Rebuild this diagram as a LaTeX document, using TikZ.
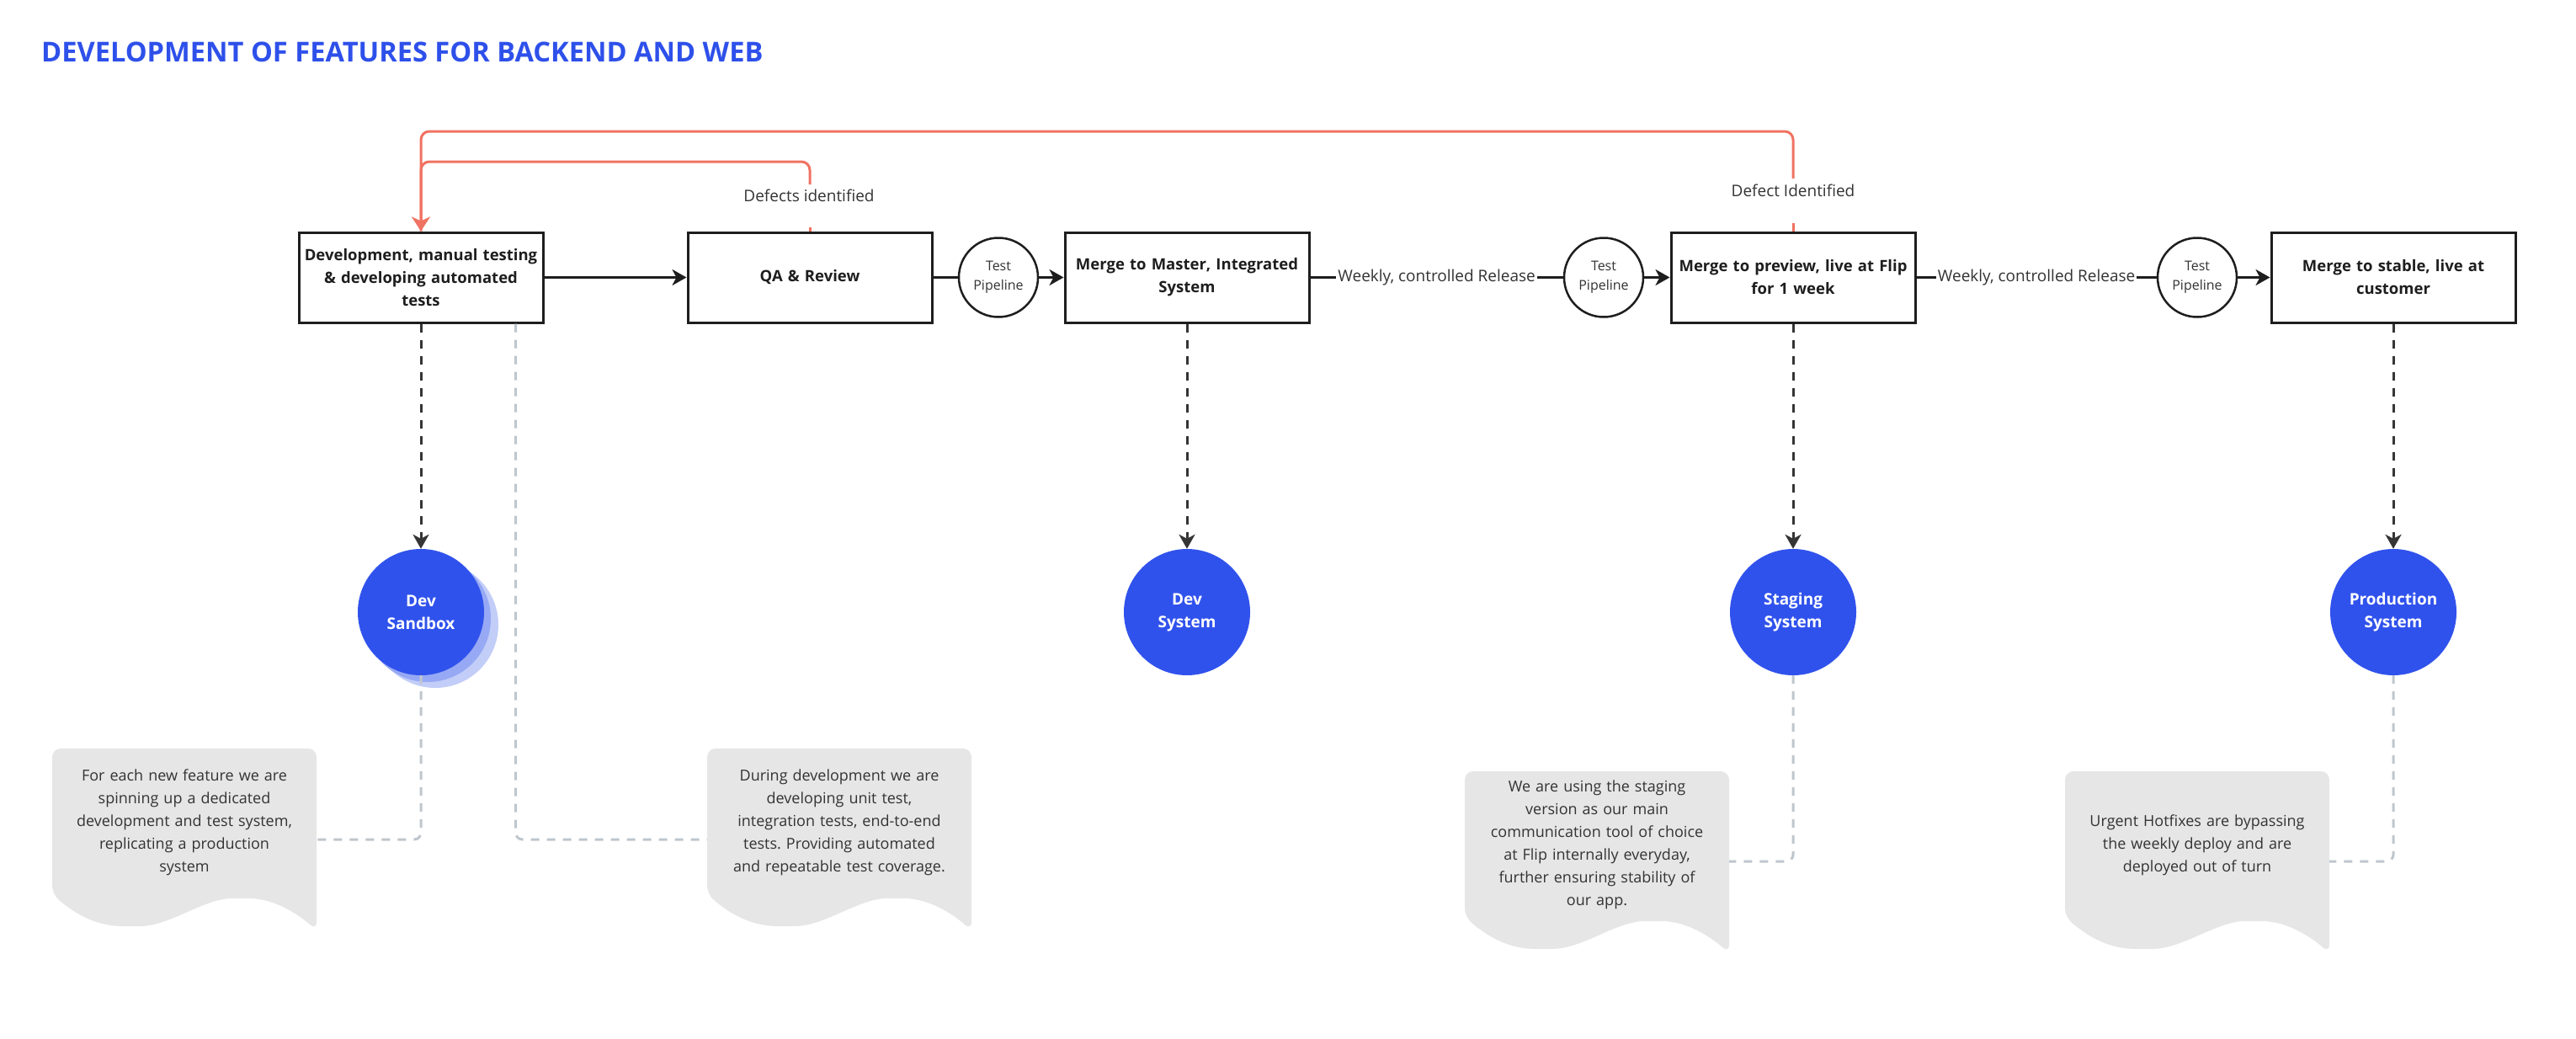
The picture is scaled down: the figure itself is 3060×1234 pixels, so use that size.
\documentclass[tikz,border=0pt]{standalone}
\usepackage{fontspec}
\setmainfont{Open Sans}
\usetikzlibrary{arrows.meta}
\frenchspacing
\definecolor{titleblue}{HTML}{2E50EA}
\definecolor{sysblue}{HTML}{3052EC}
\definecolor{shadeA}{HTML}{97A9F4}
\definecolor{shadeB}{HTML}{C2CDF8}
\definecolor{defred}{HTML}{F07262}
\definecolor{notegray}{HTML}{E6E6E6}
\definecolor{linegray}{HTML}{BFC6CD}
\definecolor{ink}{HTML}{1E1E1E}
\definecolor{txt}{HTML}{333333}
\tikzset{
 stepbox/.style={draw=ink, line width=3pt, fill=white, minimum width=290pt, minimum height=107pt, text width=284pt, align=center, font=\bfseries\fontsize{18.5}{27}\selectfont, inner sep=0pt, text=ink},
 pipe/.style={circle, draw=ink, line width=2.5pt, fill=white, minimum size=94pt, inner sep=0pt, align=center, font=\fontsize{16}{23}\selectfont, text=txt},
 sys/.style={circle, fill=sysblue, minimum size=150pt, inner sep=0pt, align=center, text=white, font=\bfseries\fontsize{19}{27}\selectfont},
 flow/.style={draw=ink, line width=3pt, -{Stealth[length=17pt,width=19pt,inset=5pt]}},
 plain/.style={draw=ink, line width=3pt},
 deploy/.style={draw=ink!90, line width=3pt, dash pattern=on 10pt off 9pt, -{Stealth[length=17pt,width=19pt,inset=5pt]}},
 remark/.style={draw=linegray, line width=3pt, dash pattern=on 10pt off 9pt, rounded corners=8pt},
 defect/.style={draw=defred, line width=3pt, rounded corners=10pt},
 lbl/.style={font=\fontsize{19}{22}\selectfont, text=txt, inner sep=2pt},
 notetext/.style={text width=306pt, align=center, font=\fontsize{18}{27}\selectfont, text=txt, inner sep=0pt},
}
\newcommand\docnote[2]{%
 \fill[notegray, rounded corners=10pt] ({#1+314},{#2+216}) -- ({#1+314},{#2}) -- ({#1},{#2}) -- ({#1},{#2+173})
   .. controls ({#1+35},{#2+203}) and ({#1+60},{#2+211}) .. ({#1+94},{#2+211})
   .. controls ({#1+140},{#2+211}) and ({#1+180},{#2+178}) .. ({#1+224},{#2+178})
   .. controls ({#1+262},{#2+178}) and ({#1+290},{#2+195}) .. ({#1+314},{#2+216}) -- cycle;}
\begin{document}
\begin{tikzpicture}[x=1pt,y=-1pt]
\useasboundingbox (0,0) rectangle (3060,1234);
\node[anchor=west, font=\bfseries\fontsize{32.6}{38}\selectfont, text=titleblue, inner sep=0pt] (title) at (49,62) {DEVELOPMENT OF FEATURES FOR BACKEND AND WEB};

% process boxes
\node[stepbox] (dev) at (500,329.5) {Development, manual testing\\ \& developing automated\\ tests};
\node[stepbox] (qa) at (962,329.5) {QA \& Review};
\node[stepbox] (mm) at (1410,329.5) {Merge to Master, Integrated\\ System};
\node[stepbox] (pv) at (2130,329.5) {Merge to preview, live at Flip\\ for 1 week};
\node[stepbox] (st) at (2843,329.5) {Merge to stable, live at\\ customer};

\node[pipe] (tp1) at (1186,329.5) {Test\\ Pipeline};
\node[pipe] (tp2) at (1905,329.5) {Test\\ Pipeline};
\node[pipe] (tp3) at (2610,329.5) {Test\\ Pipeline};

% horizontal flow
\draw[flow] (dev) -- (qa);
\draw[plain] (qa) -- (tp1);
\draw[flow] (tp1) -- (mm);
\draw[plain] (mm) -- (tp2) node[midway, lbl, fill=white] (w1) {Weekly, controlled Release};
\draw[flow] (tp2) -- (pv);
\draw[plain] (pv) -- (tp3) node[midway, lbl, fill=white] (w2) {Weekly, controlled Release};
\draw[flow] (tp3) -- (st);

% defect feedback
\node[lbl] (d1) at (961,232) {Defects identified};
\node[lbl] (d2) at (2130,226) {Defect Identified};
\coordinate (g1a) at (962,219);
\coordinate (g1b) at (962,270);
\coordinate (g2a) at (2130,212);
\coordinate (g2b) at (2130,265);
\draw[defect] (qa.north) -- (g1b);
\draw[defect] (g1a) -- (962,192) -- (500,192) -- (dev.north);
\draw[defect] (pv.north) -- (g2b);
\draw[defect, -{Stealth[length=17pt,width=22pt,inset=5pt]}] (g2a) -- (2130,156) -- (500,156) -- (dev.north);

% notes
\docnote{62}{889}
\docnote{840}{889}
\docnote{1740}{916}
\docnote{2453}{916}
\node[notetext] (n1) at (219,977) {For each new feature we are\\ spinning up a dedicated\\ development and test system,\\ replicating a production\\ system};
\node[notetext] (n2) at (997,977) {During development we are\\ developing unit test,\\ integration tests, end-to-end\\ tests. Providing automated\\ and repeatable test coverage.};
\node[notetext] (n3) at (1897,1003.5) {We are using the staging\\ version as our main\\ communication tool of choice\\ at Flip internally everyday,\\ further ensuring stability of\\ our app.};
\node[notetext] (n4) at (2610,1003.5) {Urgent Hotfixes are bypassing\\ the weekly deploy and are\\ deployed out of turn};
\coordinate (n1r) at (376,997);
\coordinate (n2l) at (840,997);
\coordinate (n3r) at (2054,1023);
\coordinate (n4r) at (2767,1023);

% systems
\fill[shadeB] (517,742) circle[radius=75pt];
\fill[shadeA] (508,735) circle[radius=75pt];
\node[sys] (dsb) at (500,727) {Dev\\ Sandbox};
\node[sys] (dsy) at (1410,727) {Dev\\ System};
\node[sys] (stg) at (2130,727) {Staging\\ System};
\node[sys] (prd) at (2843,727) {Production\\ System};

\draw[deploy] (dev) -- (dsb);
\draw[deploy] (mm) -- (dsy);
\draw[deploy] (pv) -- (stg);
\draw[deploy] (st) -- (prd);

\draw[remark] (dsb.south) |- (n1r);
\draw[remark] ([xshift=-34pt]dev.south east) |- (n2l);
\draw[remark] (stg.south) |- (n3r);
\draw[remark] (prd.south) |- (n4r);
\end{tikzpicture}
\end{document}
